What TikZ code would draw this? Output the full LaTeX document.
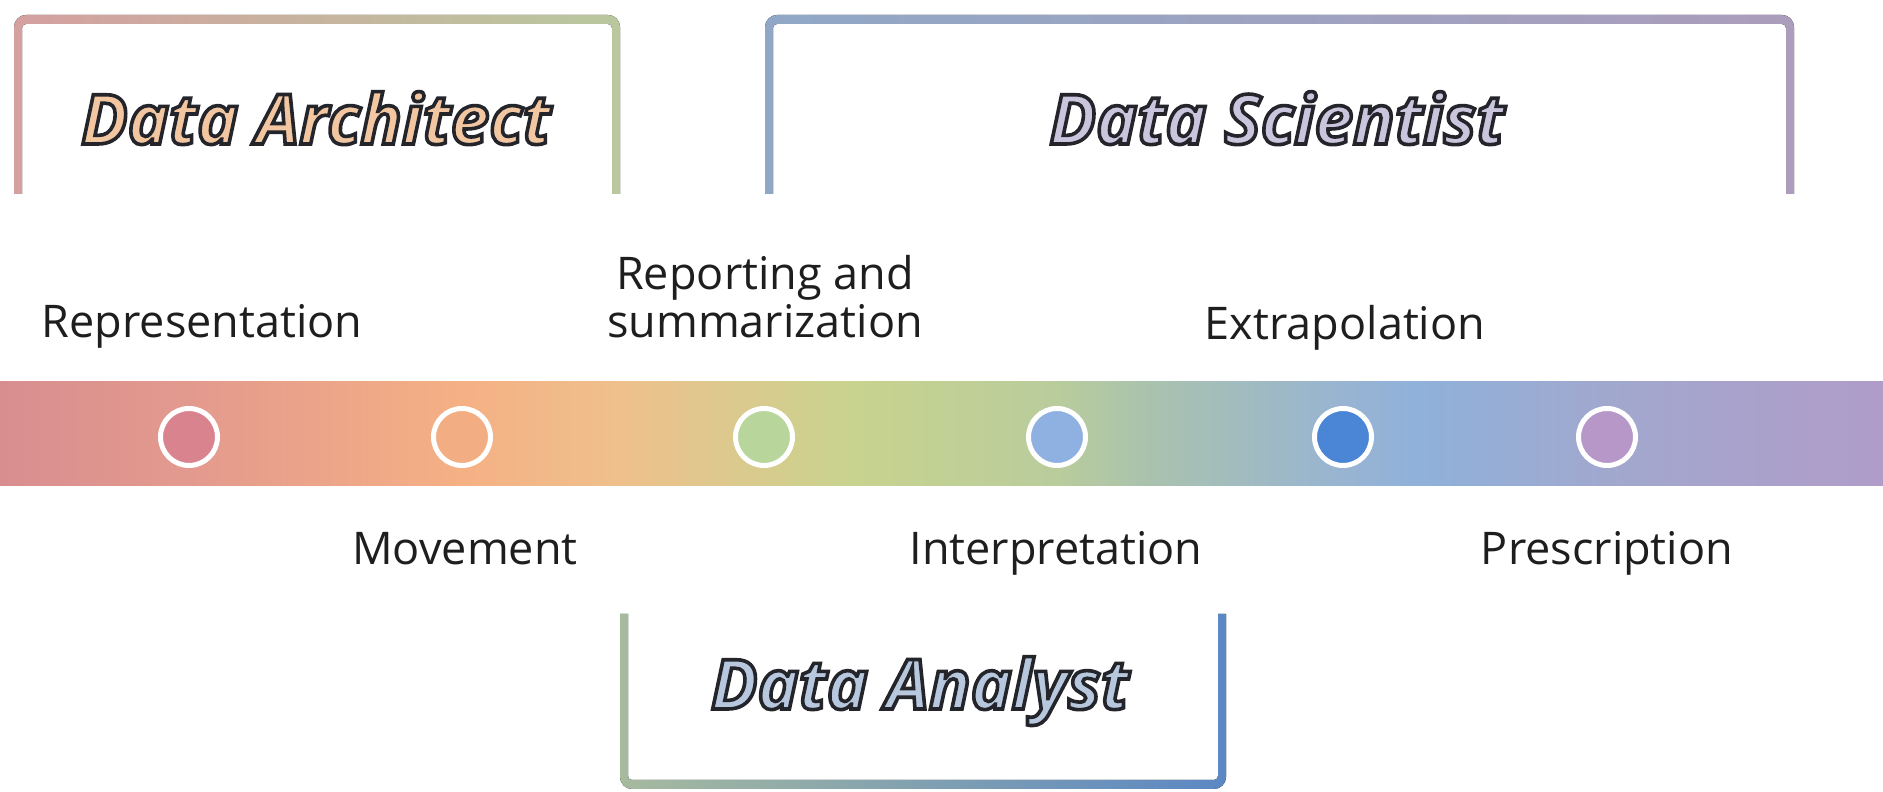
\documentclass[tikz,border=0pt]{standalone}
\usepackage{fontspec}
\setmainfont{Open Sans}
\newfontfamily\titlefont{Open Sans}
\definecolor{b0}{HTML}{D88E8F}
\definecolor{b1}{HTML}{E39A8E}
\definecolor{b2}{HTML}{F5B084}
\definecolor{b3}{HTML}{EFC08C}
\definecolor{b4}{HTML}{C8D38E}
\definecolor{b5}{HTML}{B9CC9C}
\definecolor{b6}{HTML}{A9C2AE}
\definecolor{b7}{HTML}{98B4D2}
\definecolor{b8}{HTML}{8FB1DA}
\definecolor{b9}{HTML}{A1A8CE}
\definecolor{b10}{HTML}{B09CC9}
\definecolor{c1}{HTML}{D9838F}
\definecolor{c2}{HTML}{F2AE82}
\definecolor{c3}{HTML}{B8D69C}
\definecolor{c4}{HTML}{8EB1E2}
\definecolor{c5}{HTML}{4A85D6}
\definecolor{c6}{HTML}{B697C8}
\definecolor{arL}{HTML}{D4A0A0}
\definecolor{arR}{HTML}{B9C89E}
\definecolor{scL}{HTML}{90A8C6}
\definecolor{scR}{HTML}{AB9DBB}
\definecolor{anL}{HTML}{A6BA9E}
\definecolor{anR}{HTML}{5B87C4}
\definecolor{arF}{HTML}{F2C6A0}
\definecolor{scF}{HTML}{CAC4DC}
\definecolor{anF}{HTML}{B7C7DD}
\definecolor{lbltext}{HTML}{1E1E1E}
\newcommand\outlined[1]{\special{pdf:literal direct 2 Tr 0.14 0.14 0.17 RG 3.6 w}#1\special{pdf:literal direct 0 Tr 0 0 0 RG 0.4 w}}
\tikzset{
  lbl/.style={font=\fontsize{45}{50}\selectfont, text=lbltext, inner sep=0pt, anchor=base},
  ttl/.style={font=\titlefont\bfseries\itshape\fontsize{69}{76}\selectfont, inner sep=0pt, anchor=base},
  dot/.style={circle, draw=white, line width=5pt, minimum size=57pt, inner sep=0pt},
}
\newcommand\mytitle[5]{%
  \node[ttl, text=#4] (#1) at (#2,#3) {\outlined{#5}};
}
\begin{document}
\begin{tikzpicture}[x=1pt,y=1pt]
\useasboundingbox (0,0) rectangle (1883,792);
\fill[white] (0,0) rectangle (1883,792);
% gradient bar
\foreach \xa/\xb/\ca/\cb in {0/190/b0/b1, 190/460/b1/b2, 460/620/b2/b3, 620/850/b3/b4, 850/1057/b4/b5, 1057/1150/b5/b6, 1150/1343/b6/b7, 1343/1420/b7/b8, 1420/1607/b8/b9, 1607/1883/b9/b10}
  {\fill[left color=\ca, right color=\cb] (\xa-0.5,306) rectangle (\xb+0.5,410);}
% dots
\node[dot, fill=c1] (d1) at (189,355) {};
\node[dot, fill=c2] (d2) at (462,355) {};
\node[dot, fill=c3] (d3) at (764,355) {};
\node[dot, fill=c4] (d4) at (1057,355) {};
\node[dot, fill=c5] (d5) at (1343,355) {};
\node[dot, fill=c6] (d6) at (1607,355) {};
% brackets
\fill[left color=arL, right color=arR] (14,598) [rounded corners=12] -- (14,777) -- (620,777) -- (620,700) [sharp corners] -- (620,598) -- (612,598) -- (612,700) [rounded corners=4] -- (612,768) -- (22,768) -- (22,700) [sharp corners] -- (22,598) -- cycle;
\fill[left color=scL, right color=scR] (765,598) [rounded corners=12] -- (765,777) -- (1794,777) -- (1794,700) [sharp corners] -- (1794,598) -- (1786,598) -- (1786,700) [rounded corners=4] -- (1786,768) -- (773,768) -- (773,700) [sharp corners] -- (773,598) -- cycle;
\fill[left color=anL, right color=anR] (620,178) [rounded corners=12] -- (620,3) -- (1226,3) -- (1226,100) [sharp corners] -- (1226,178) -- (1218,178) -- (1218,100) [rounded corners=4] -- (1218,12) -- (628,12) -- (628,100) [sharp corners] -- (628,178) -- cycle;
% labels
\node[lbl] (lrep) at (202,454) {Representation};
\node[lbl] (lrepa) at (765,502) {Reporting and};
\node[lbl] (lrepb) at (765,454) {summarization};
\node[lbl] (lext) at (1345,452) {Extrapolation};
\node[lbl] (lmov) at (465,227) {Movement};
\node[lbl] (lint) at (1056,227) {Interpretation};
\node[lbl] (lpre) at (1607,227) {Prescription};
% titles
\mytitle{tarch}{316}{648}{arF}{Data Architect}
\mytitle{tsci}{1277}{648}{scF}{Data Scientist}
\mytitle{tana}{920}{83}{anF}{Data Analyst}
\end{tikzpicture}
\end{document}
